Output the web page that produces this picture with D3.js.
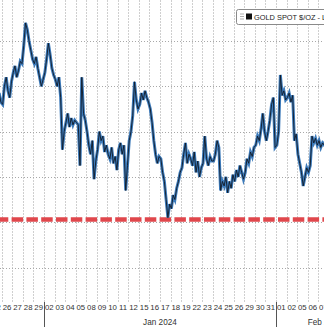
<!DOCTYPE html>
<html>
<head>
<meta charset="utf-8">
<script src="https://cdn.jsdelivr.net/npm/d3@7"></script>
<style>
  html, body { margin: 0; padding: 0; background: #fff; overflow: hidden; }
  svg { display: block; font-family: "Liberation Sans", Arial, sans-serif; }
</style>
</head>
<body>
<svg id="chart" width="324" height="327"></svg>
<script>
// ----------

// trading days shown on the x axis (Dec 22 is only partly visible)
const DAY_LABELS = ["22", "26", "27", "28", "29",
  "02", "03", "04", "05", "08", "09", "10", "11", "12", "15", "16", "17", "18", "19",
  "22", "23", "24", "25", "26", "29", "30", "31",
  "01", "02", "05", "06", "07"];

const MONTH_NAMES = ["Jan 2024", "Feb 2024"];
const MONTH_START_DAY = [5, 27];
const MONTH_END_DAY = [27, 36.3];

const GRID_LEVELS = [1980, 2000, 2020, 2040, 2060, 2080];
const SUPPORT_LEVEL = 2001.2;

const POINTS_PER_DAY = 6;
// GOLD SPOT $/OZ, six readings per trading day
const PRICES = [
  2050, 2052, 2055, 2048, 2057, 2053, // Dec 22
  2052, 2060, 2064, 2058, 2055, 2062, // Dec 26
  2066, 2069, 2064, 2067, 2071, 2070, // Dec 27
  2078, 2088, 2085, 2080, 2076, 2072, // Dec 28
  2070, 2073, 2068, 2064, 2060, 2063, // Dec 29
  2066, 2072, 2079, 2074, 2068, 2065, // Jan 02
  2063, 2060, 2064, 2055, 2032, 2040, // Jan 03
  2044, 2048, 2042, 2046, 2043, 2045, // Jan 04
  2044, 2043, 2025, 2064, 2048, 2045, // Jan 05
  2040, 2034, 2030, 2036, 2019, 2027, // Jan 08
  2032, 2040, 2036, 2038, 2031, 2034, // Jan 09
  2030, 2028, 2033, 2026, 2029, 2023, // Jan 10
  2032, 2035, 2030, 2034, 2014, 2025, // Jan 11
  2036, 2040, 2047, 2062, 2054, 2050, // Jan 12
  2052, 2057, 2054, 2058, 2055, 2053, // Jan 15
  2050, 2044, 2036, 2030, 2026, 2029, // Jan 16
  2028, 2022, 2018, 2010, 2002, 2008, // Jan 17
  2006, 2012, 2010, 2015, 2018, 2022, // Jan 18
  2024, 2030, 2035, 2026, 2030, 2028, // Jan 19
  2025, 2031, 2022, 2027, 2020, 2024, // Jan 22
  2026, 2038, 2028, 2025, 2029, 2027, // Jan 23
  2027, 2030, 2036, 2033, 2014, 2018, // Jan 24
  2016, 2020, 2013, 2018, 2015, 2021, // Jan 25
  2018, 2023, 2020, 2025, 2022, 2019, // Jan 26
  2022, 2028, 2026, 2031, 2029, 2033, // Jan 29
  2034, 2038, 2036, 2041, 2048, 2040, // Jan 30
  2036, 2040, 2045, 2052, 2055, 2033, // Jan 31
  2034, 2040, 2065, 2056, 2058, 2054, // Feb 01
  2055, 2057, 2053, 2056, 2036, 2039, // Feb 02
  2030, 2026, 2022, 2016, 2020, 2024, // Feb 05
  2022, 2025, 2038, 2035, 2037, 2034, // Feb 06
  2036, 2033, 2035, 2034, 2037, 2035  // Feb 07
];

const LEGEND_TEXT = "GOLD SPOT $/OZ - Last Price";

// ----------

const svg = d3.select("#chart");
const plotBottom = 302;

const x = d3.scaleLinear().domain([0, DAY_LABELS.length]).range([-8.75, 328.7]);
const y = d3.scaleLinear().domain([1980, 2080]).range([267.5, 41]);

// vertical day gridlines
svg.append("g")
  .selectAll("line")
  .data(d3.range(1, DAY_LABELS.length + 1))
  .join("line")
  .attr("x1", d => Math.round(x(d)) + 0.5)
  .attr("x2", d => Math.round(x(d)) + 0.5)
  .attr("y1", 0)
  .attr("y2", plotBottom)
  .attr("stroke", "#cfcfcf")
  .attr("stroke-width", 1)
  .attr("stroke-dasharray", "2,1");

// horizontal price gridlines
svg.append("g")
  .selectAll("line")
  .data(GRID_LEVELS)
  .join("line")
  .attr("x1", 0)
  .attr("x2", 324)
  .attr("y1", d => Math.round(y(d)) + 0.5)
  .attr("y2", d => Math.round(y(d)) + 0.5)
  .attr("stroke", "#a8a8a8")
  .attr("stroke-width", 1)
  .attr("stroke-dasharray", "1,2");

// red dashed support line
svg.append("line")
  .attr("x1", 0)
  .attr("x2", 324)
  .attr("y1", y(SUPPORT_LEVEL))
  .attr("y2", y(SUPPORT_LEVEL))
  .attr("stroke", "#e0474c")
  .attr("stroke-width", 4.5)
  .attr("stroke-dasharray", "11.5,3.3")
  .attr("stroke-dashoffset", 3.2);

// price line
const points = PRICES.map((p, i) => ({
  t: Math.floor(i / POINTS_PER_DAY) + ((i % POINTS_PER_DAY) + 0.5) / POINTS_PER_DAY,
  v: p
}));

const line = d3.line().x(d => x(d.t)).y(d => y(d.v));

svg.append("path")
  .datum(points)
  .attr("d", line)
  .attr("fill", "none")
  .attr("stroke", "#3d7bbb")
  .attr("stroke-width", 3)
  .attr("stroke-linejoin", "miter");

svg.append("path")
  .datum(points)
  .attr("d", line)
  .attr("fill", "none")
  .attr("stroke", "#111a26")
  .attr("stroke-width", 0.9)
  .attr("stroke-linejoin", "miter");

// x axis: day labels
svg.append("g")
  .selectAll("text")
  .data(DAY_LABELS)
  .join("text")
  .attr("x", (d, i) => x(i + 0.5))
  .attr("y", 310)
  .attr("text-anchor", "middle")
  .attr("font-size", "7.8px")
  .attr("fill", "#333")
  .text(d => d);

// month dividers
svg.append("g")
  .selectAll("line")
  .data(MONTH_START_DAY)
  .join("line")
  .attr("x1", d => Math.round(x(d)) + 0.5)
  .attr("x2", d => Math.round(x(d)) + 0.5)
  .attr("y1", plotBottom)
  .attr("y2", 327)
  .attr("stroke", "#555")
  .attr("stroke-width", 1);

// month labels
svg.append("g")
  .selectAll("text")
  .data(MONTH_NAMES)
  .join("text")
  .attr("x", (d, i) => x((MONTH_START_DAY[i] + MONTH_END_DAY[i]) / 2))
  .attr("y", 325)
  .attr("text-anchor", "middle")
  .attr("font-size", "8.2px")
  .attr("fill", "#333")
  .text(d => d);

// legend
const legend = svg.append("g").attr("transform", "translate(236,9)");
legend.append("rect")
  .attr("x", 0.5)
  .attr("y", 0.5)
  .attr("width", 120)
  .attr("height", 15)
  .attr("rx", 2)
  .attr("fill", "#fff")
  .attr("stroke", "#8a8a8a");
legend.selectAll("line.icon")
  .data([5, 7.5, 10])
  .join("line")
  .attr("class", "icon")
  .attr("x1", 4)
  .attr("x2", 8)
  .attr("y1", d => d)
  .attr("y2", d => d)
  .attr("stroke", "#b0b0b0");
legend.append("rect")
  .attr("x", 10)
  .attr("y", 4.5)
  .attr("width", 6)
  .attr("height", 6)
  .attr("fill", "#111");
legend.append("text")
  .attr("x", 18)
  .attr("y", 10.8)
  .attr("font-size", "7.4px")
  .attr("fill", "#222")
  .text(LEGEND_TEXT);
</script>
</body>
</html>
